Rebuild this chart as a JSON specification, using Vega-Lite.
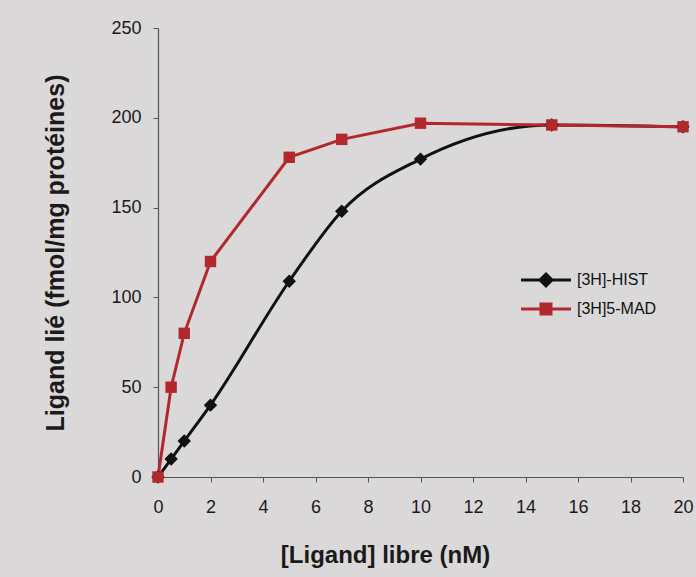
{
  "$schema": "https://vega.github.io/schema/vega-lite/v6.json",
  "width": 525,
  "height": 449,
  "autosize": {"type": "none"},
  "padding": {"left": 158, "top": 28, "right": 13, "bottom": 100},
  "background": "#dad8d8",
  "config": {
    "view": {"stroke": null},
    "font": "Liberation Sans",
    "axis": {"grid": false, "domainColor": "#555", "tickColor": "#555", "domainWidth": 1.2, "tickSize": 5, "labelColor": "#1a1a1a", "labelFontSize": 18, "labelFlush": false, "titleFontWeight": "bold", "titleColor": "#1a1a1a"}
  },
  "data": {"values": [
    {"x": 0, "y": 0, "s": "[3H]-HIST"},
    {"x": 0.5, "y": 10, "s": "[3H]-HIST"},
    {"x": 1, "y": 20, "s": "[3H]-HIST"},
    {"x": 2, "y": 40, "s": "[3H]-HIST"},
    {"x": 5, "y": 109, "s": "[3H]-HIST"},
    {"x": 7, "y": 148, "s": "[3H]-HIST"},
    {"x": 10, "y": 177, "s": "[3H]-HIST"},
    {"x": 15, "y": 196, "s": "[3H]-HIST"},
    {"x": 20, "y": 195, "s": "[3H]-HIST"},
    {"x": 0, "y": 0, "s": "[3H]5-MAD"},
    {"x": 0.5, "y": 50, "s": "[3H]5-MAD"},
    {"x": 1, "y": 80, "s": "[3H]5-MAD"},
    {"x": 2, "y": 120, "s": "[3H]5-MAD"},
    {"x": 5, "y": 178, "s": "[3H]5-MAD"},
    {"x": 7, "y": 188, "s": "[3H]5-MAD"},
    {"x": 10, "y": 197, "s": "[3H]5-MAD"},
    {"x": 15, "y": 196, "s": "[3H]5-MAD"},
    {"x": 20, "y": 195, "s": "[3H]5-MAD"}
  ]},
  "encoding": {
    "x": {"field": "x", "type": "quantitative", "scale": {"domain": [0, 20], "nice": false}, "axis": {"values": [0,2,4,6,8,10,12,14,16,18,20], "title": "[Ligand] libre (nM)", "titleFontSize": 24, "titleX": 227, "titleAlign": "center", "labelPadding": 16, "titlePadding": 27}},
    "y": {"field": "y", "type": "quantitative", "scale": {"domain": [0, 250], "nice": false}, "axis": {"values": [0,50,100,150,200,250], "title": "Ligand lié (fmol/mg protéines)", "titleFontSize": 25, "labelPadding": 12, "titlePadding": 42}}
  },
  "layer": [
    {"mark": {"type": "point", "filled": true, "opacity": 0},
     "encoding": {
       "shape": {"field": "s", "type": "nominal", "scale": {"domain": ["[3H]-HIST", "[3H]5-MAD"], "range": ["M-5,0H5M0,-1.2L1.2,0L0,1.2L-1.2,0Z", "M-5,0H5M-1,-1H1V1H-1Z"]}},
       "color": {"field": "s", "type": "nominal", "scale": {"domain": ["[3H]-HIST", "[3H]5-MAD"], "range": ["#111111", "#b3282d"]},
         "legend": {"title": null, "orient": "none", "legendX": 380, "legendY": 244, "symbolSize": 100, "symbolOpacity": 1, "symbolStrokeWidth": 3, "labelFontSize": 16, "labelColor": "#111", "labelOffset": 23, "rowPadding": 6, "symbolOffset": 0,
           "encode": {"symbols": {"update": {"stroke": {"scale": "color", "field": "value"}, "strokeWidth": {"value": 3}, "opacity": {"value": 1}}}}}}
     }},
    {"transform": [{"filter": "datum.s == '[3H]-HIST'"}], "mark": {"type": "line", "interpolate": "monotone", "strokeWidth": 3}, "encoding": {"color": {"field": "s", "type": "nominal"}}},
    {"transform": [{"filter": "datum.s == '[3H]5-MAD'"}], "mark": {"type": "line", "strokeWidth": 3}, "encoding": {"color": {"field": "s", "type": "nominal"}}},
    {"transform": [{"filter": "datum.s == '[3H]-HIST'"}], "mark": {"type": "point", "shape": "diamond", "filled": true, "opacity": 1, "size": 180}, "encoding": {"color": {"field": "s", "type": "nominal"}}},
    {"transform": [{"filter": "datum.s == '[3H]5-MAD'"}], "mark": {"type": "point", "shape": "square", "filled": true, "opacity": 1, "size": 130}, "encoding": {"color": {"field": "s", "type": "nominal"}}}
  ]
}
